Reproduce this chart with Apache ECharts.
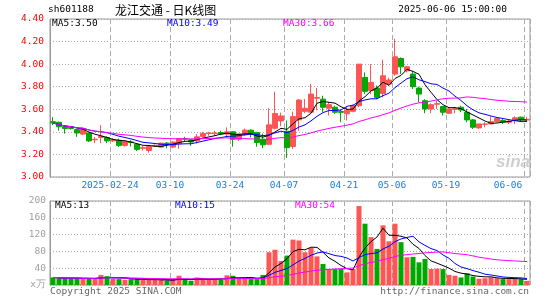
<!DOCTYPE html>
<html><head><meta charset="utf-8">
<script src="https://cdn.jsdelivr.net/npm/echarts@6/dist/echarts.min.js"></script>
<style>html,body{margin:0;padding:0;background:#fff}#c{width:545px;height:300px}</style>
</head><body><div id="c"></div>
<script>
const dates = [
'2025-02-10','2025-02-11','2025-02-12','2025-02-13','2025-02-14','2025-02-17','2025-02-18','2025-02-19','2025-02-20','2025-02-21',
'2025-02-24','2025-02-25','2025-02-26','2025-02-27','2025-02-28','2025-03-03','2025-03-04','2025-03-05','2025-03-06','2025-03-07',
'2025-03-10','2025-03-11','2025-03-12','2025-03-13','2025-03-14','2025-03-17','2025-03-18','2025-03-19','2025-03-20','2025-03-21',
'2025-03-24','2025-03-25','2025-03-26','2025-03-27','2025-03-28','2025-03-31','2025-04-01','2025-04-02','2025-04-03','2025-04-07',
'2025-04-08','2025-04-09','2025-04-10','2025-04-11','2025-04-14','2025-04-15','2025-04-16','2025-04-17','2025-04-18','2025-04-21',
'2025-04-22','2025-04-23','2025-04-24','2025-04-25','2025-04-28','2025-04-29','2025-04-30','2025-05-06','2025-05-07','2025-05-08',
'2025-05-09','2025-05-12','2025-05-13','2025-05-14','2025-05-15','2025-05-16','2025-05-19','2025-05-20','2025-05-21','2025-05-22',
'2025-05-23','2025-05-26','2025-05-27','2025-05-28','2025-05-29','2025-05-30','2025-06-03','2025-06-04','2025-06-05','2025-06-06'];

const opens = [
3.49,3.485,3.445,3.44,3.42,3.38,3.39,3.33,3.35,3.35,
3.32,3.325,3.28,3.31,3.29,3.255,3.235,3.275,3.265,3.30,
3.265,3.295,3.34,3.33,3.32,3.359,3.385,3.385,3.394,3.38,
3.40,3.335,3.374,3.415,3.394,3.335,3.29,3.432,3.497,3.405,
3.27,3.506,3.582,3.574,3.698,3.69,3.609,3.618,3.58,3.56,
3.582,3.632,3.882,3.765,3.788,3.74,3.824,3.912,4.05,3.941,
3.912,3.788,3.676,3.603,3.645,3.624,3.565,3.60,3.618,3.574,
3.506,3.435,3.467,3.47,3.49,3.50,3.485,3.50,3.53,3.505];
const closes = [
3.48,3.445,3.43,3.43,3.39,3.42,3.32,3.335,3.36,3.32,
3.33,3.28,3.315,3.305,3.245,3.26,3.27,3.28,3.30,3.295,
3.31,3.34,3.335,3.31,3.356,3.385,3.39,3.39,3.38,3.40,
3.335,3.38,3.415,3.38,3.306,3.285,3.462,3.562,3.541,3.26,
3.535,3.682,3.609,3.735,3.705,3.618,3.641,3.574,3.573,3.59,
3.632,4.00,3.759,3.838,3.706,3.897,3.859,4.065,3.976,3.976,
3.80,3.735,3.603,3.641,3.65,3.574,3.603,3.605,3.594,3.506,
3.441,3.47,3.47,3.49,3.52,3.485,3.495,3.525,3.506,3.51];
const lows = [
3.46,3.41,3.385,3.42,3.355,3.37,3.31,3.30,3.30,3.30,
3.31,3.265,3.27,3.27,3.23,3.235,3.215,3.265,3.26,3.255,
3.255,3.25,3.315,3.276,3.297,3.35,3.365,3.365,3.37,3.35,
3.268,3.32,3.365,3.35,3.268,3.256,3.285,3.42,3.45,3.17,
3.25,3.41,3.565,3.57,3.59,3.574,3.544,3.56,3.485,3.50,
3.574,3.62,3.735,3.735,3.69,3.706,3.81,3.897,3.912,3.926,
3.78,3.662,3.565,3.565,3.603,3.544,3.559,3.565,3.574,3.485,
3.426,3.426,3.44,3.47,3.485,3.47,3.47,3.47,3.494,3.49];
const highs = [
3.53,3.49,3.455,3.445,3.425,3.43,3.395,3.355,3.46,3.36,
3.345,3.34,3.32,3.325,3.295,3.275,3.275,3.29,3.305,3.31,
3.315,3.345,3.356,3.335,3.38,3.40,3.40,3.41,3.41,3.44,
3.405,3.385,3.43,3.42,3.40,3.385,3.609,3.756,3.57,3.50,
3.58,3.69,3.691,3.824,3.79,3.72,3.662,3.632,3.60,3.62,
3.64,4.00,3.926,4.00,3.81,4.04,3.88,4.225,4.06,3.985,
3.94,3.80,3.69,3.653,3.676,3.63,3.618,3.62,3.632,3.603,
3.515,3.476,3.485,3.535,3.53,3.515,3.51,3.538,3.535,3.53];
const volumes = [
18,16,16,16,16,15,15,15,24,21,
15,14,12,14,14,12,12,12,12,10,
12,22,12,10,18,15,14,14,12,23,
22,15,15,14,14,24,78,84,57,70,
108,106,78,88,68,50,38,38,38,30,
38,188,146,114,86,142,104,146,102,66,
67,54,62,38,39,38,24,22,18,28,
20,15,16,18,16,14,14,15,14,10];

const axisLabelDates = ['2025-02-24','2025-03-10','2025-03-24','2025-04-07','2025-04-21','2025-05-06','2025-05-19','2025-06-06'];
const priceLegend = ['MA5:3.50','MA10:3.49','MA30:3.66'];
const volLegend = ['MA5:13','MA10:15','MA30:54'];
const maPeriods = [5,10,30];
const maColors = ['#000000','#0000ff','#ff00ff'];

const UP = '#ff5555', DOWN = '#00a800';
const MONO = 'DejaVu Sans Mono';
const labelSet = new Set(axisLabelDates);

function movingAvg(arr, n) {
  return arr.map((_, i) => {
    const s = Math.max(0, i - n + 1);
    let sum = 0;
    for (let k = s; k <= i; k++) sum += arr[k];
    return +(sum / (i - s + 1)).toFixed(4);
  });
}

const kData = dates.map((d, i) => [opens[i], closes[i], lows[i], highs[i]]);
const volData = volumes.map((v, i) => ({
  value: v,
  itemStyle: { color: closes[i] >= opens[i] ? UP : DOWN }
}));

const xLabelFmt = (v) => {
  if (v === axisLabelDates[0]) return '{a|' + v + '}';
  if (v === axisLabelDates[axisLabelDates.length - 1]) return '{b|' + v.slice(5) + '}';
  return '{a|' + v.slice(5) + '}';
};
const labelRich = {
  a: { color: '#1c7cd5', fontFamily: MONO, fontSize: 9.5, padding: [0, 6, 0, 0] },
  b: { color: '#1c7cd5', fontFamily: MONO, fontSize: 9.5, padding: [0, 38, 0, 0] }
};
const vSplit = { show: true, interval: (i, v) => labelSet.has(v), lineStyle: { color: '#aaaaaa', type: [5, 3], width: 1 } };

const series = [{
  type: 'candlestick', xAxisIndex: 0, yAxisIndex: 0, data: kData, barWidth: 5,
  itemStyle: { color: UP, color0: DOWN, borderColor: UP, borderColor0: DOWN, borderWidth: 1 }
}];
maPeriods.forEach((p, k) => {
  series.push({ type: 'line', xAxisIndex: 0, yAxisIndex: 0, data: movingAvg(closes, p), symbol: 'none',
    lineStyle: { color: maColors[k], width: 1 }, z: 3 });
});
series.push({ type: 'bar', xAxisIndex: 1, yAxisIndex: 1, data: volData, barWidth: 5 });
maPeriods.forEach((p, k) => {
  series.push({ type: 'line', xAxisIndex: 1, yAxisIndex: 1, data: movingAvg(volumes, p), symbol: 'none',
    lineStyle: { color: maColors[k], width: 1 }, z: 3 });
});

const txt = (x, y, text, fill, opts) => ({
  type: 'text', z: 100, style: Object.assign({ x, y, text, fill, font: '9.5px "' + MONO + '"',
    textAlign: 'left', textVerticalAlign: 'middle' }, opts || {})
});

const chart = echarts.init(document.getElementById('c'));
chart.setOption({
  animation: false,
  backgroundColor: '#ffffff',
  grid: [
    { left: 50, right: 15, top: 19, height: 158, show: true, borderColor: '#999999', borderWidth: 1 },
    { left: 50, right: 15, top: 201, height: 84, show: true, borderColor: '#999999', borderWidth: 1 }
  ],
  xAxis: [
    { type: 'category', gridIndex: 0, data: dates, boundaryGap: true,
      axisLine: { show: false }, axisTick: { show: false },
      axisLabel: { interval: (i, v) => labelSet.has(v), formatter: xLabelFmt, rich: labelRich, margin: 4,
        color: '#1c7cd5', fontFamily: MONO, fontSize: 9.5 },
      splitLine: vSplit },
    { type: 'category', gridIndex: 1, data: dates, boundaryGap: true,
      axisLine: { show: false }, axisTick: { show: false }, axisLabel: { show: false },
      splitLine: vSplit }
  ],
  yAxis: [
    { type: 'value', gridIndex: 0, min: 3.0, max: 4.4, interval: 0.2,
      axisLine: { show: true, lineStyle: { color: '#999999' } }, axisTick: { show: false },
      axisLabel: { color: '#ff0000', fontFamily: MONO, fontSize: 9.5, margin: 6, formatter: v => v.toFixed(2) },
      splitLine: { lineStyle: { color: '#aaaaaa', type: [1, 2] } } },
    { type: 'value', gridIndex: 1, min: 0, max: 200, interval: 40,
      axisLine: { show: true, lineStyle: { color: '#999999' } }, axisTick: { show: false },
      axisLabel: { color: '#a0a0a0', fontFamily: MONO, fontSize: 9.5, margin: 4,
        formatter: v => (v === 0 ? 'x万' : String(v)) },
      splitLine: { lineStyle: { color: '#aaaaaa', type: [1, 2] } } }
  ],
  series: series,
  graphic: [
    txt(48, 10, 'sh601188', '#000000'),
    txt(115, 10, '龙江交通 - 日K线图', '#000000', { font: '12px "Noto Sans CJK SC"' }),
    txt(507, 10, '2025-06-06 15:00:00', '#000000', { textAlign: 'right' }),
    txt(52, 24, priceLegend[0], maColors[0]),
    txt(167, 24, priceLegend[1], maColors[1]),
    txt(283, 24, priceLegend[2], maColors[2]),
    txt(55, 206, volLegend[0], maColors[0]),
    txt(175, 206, volLegend[1], maColors[1]),
    txt(295, 206, volLegend[2], maColors[2]),
    txt(50, 292, 'Copyright 2025 SINA.COM', '#666666'),
    txt(529, 292, 'http://finance.sina.com.cn', '#666666', { textAlign: 'right' }),
    txt(513, 162, 'sina', '#cfcfcf', { textAlign: 'center', font: 'italic bold 17px "Liberation Sans"' })
  ]
});
</script></body></html>
